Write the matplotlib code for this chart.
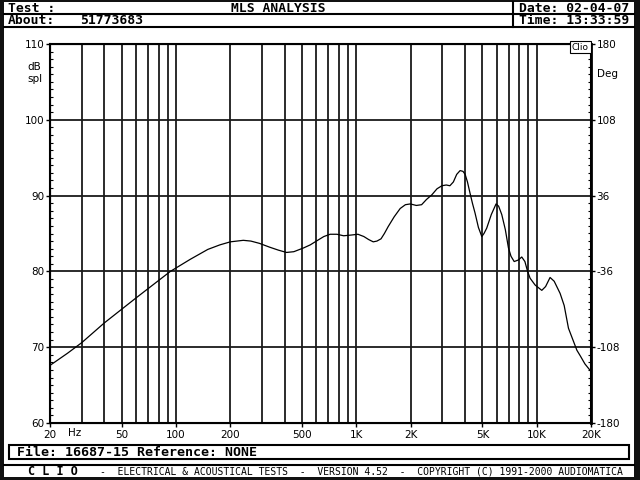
import matplotlib
matplotlib.use("Agg")
from matplotlib import pyplot as plt
from matplotlib.patches import Rectangle
from matplotlib.lines import Line2D
from matplotlib.ticker import FixedLocator, MultipleLocator, NullFormatter

plt.rcParams["axes.unicode_minus"] = False

# response curve
freq = [20, 25, 30, 40, 60, 93, 120, 150, 175, 200, 236, 260, 290, 330, 370,
        410, 450, 510, 555, 600, 660, 715, 780, 850, 940, 1020, 1100, 1170,
        1240, 1300, 1370, 1430, 1500, 1620, 1750, 1870, 1990, 2150, 2300,
        2450, 2620, 2800, 2980, 3150, 3300, 3450, 3600, 3760, 3900, 4010,
        4130, 4270, 4400, 4550, 4750, 4960, 5100, 5280, 5600, 5950, 6150,
        6400, 6700, 6970, 7200, 7500, 7900, 8260, 8600, 8900, 9190, 9800,
        10670, 11200, 11860, 12500, 13480, 14200, 15000, 16700, 17500, 18500,
        20000]
spl = [67.6, 69.2, 70.6, 73.2, 76.5, 80.0, 81.6, 82.9, 83.5, 83.9, 84.1, 84.0,
       83.7, 83.2, 82.8, 82.5, 82.6, 83.1, 83.5, 84.0, 84.6, 84.9, 84.9, 84.7,
       84.8, 84.9, 84.6, 84.2, 83.9, 84.0, 84.3, 85.0, 85.9, 87.2, 88.3, 88.8,
       88.9, 88.7, 88.8, 89.5, 90.1, 90.9, 91.3, 91.4, 91.3, 91.8, 92.8, 93.3,
       93.2, 92.8, 91.8, 90.3, 89.0, 87.7, 85.8, 84.6, 85.0, 85.7, 87.5, 88.9,
       88.6, 87.5, 85.5, 83.1, 82.0, 81.3, 81.5, 81.9, 81.3, 80.0, 79.1, 78.2,
       77.5, 78.0, 79.2, 78.7, 77.1, 75.5, 72.5, 69.6, 68.8, 67.8, 66.8]

x_ticks = [20, 50, 100, 200, 500, 1000, 2000, 5000, 10000, 20000]
x_labels = ["20", "50", "100", "200", "500", "1K", "2K", "5K", "10K", "20K"]
x_grid = [30, 40, 50, 60, 70, 80, 90, 100, 200, 300, 400, 500, 600, 700, 800,
          900, 1000, 2000, 3000, 4000, 5000, 6000, 7000, 8000, 9000, 10000]
db_ticks = [60, 70, 80, 90, 100, 110]
deg_ticks = [-180, -108, -36, 36, 108, 180]

W, H = 640, 480


def fx(x):
    return x / W


def fy(y):
    return 1 - y / H


def hline(fig, y, x0, x1, lw=1.5):
    fig.add_artist(Line2D([fx(x0), fx(x1)], [fy(y), fy(y)], color="black", lw=lw))


def vline(fig, x, y0, y1, lw=1.5):
    fig.add_artist(Line2D([fx(x), fx(x)], [fy(y0), fy(y1)], color="black", lw=lw))


fig = plt.figure(figsize=(6.4, 4.8), dpi=100)
fig.patch.set_facecolor("#111111")
fig.add_artist(Rectangle((fx(4), fy(477)), fx(630), 475 / H,
                         facecolor="white", edgecolor="none", zorder=-10))

# header
mono = "DejaVu Sans Mono"
hline(fig, 14, 4, 634)
hline(fig, 27, 4, 634)
vline(fig, 513, 2, 27)
fig.text(fx(8), fy(8), "Test :", family=mono, weight="bold", fontsize=9.4, va="center")
fig.text(fx(8), fy(20.5), "About:", family=mono, weight="bold", fontsize=9.4, va="center")
fig.text(fx(80), fy(20.5), "51773683", family=mono, weight="bold", fontsize=9.4, va="center")
fig.text(fx(278), fy(8), "MLS ANALYSIS", family=mono, weight="bold", fontsize=9.4,
         va="center", ha="center")
fig.text(fx(519), fy(8), "Date: 02-04-07", family=mono, weight="bold", fontsize=9.4, va="center")
fig.text(fx(519), fy(20.5), "Time: 13:33:59", family=mono, weight="bold", fontsize=9.4, va="center")

# footer
fig.add_artist(Rectangle((fx(9), fy(459)), fx(620), 14 / H, facecolor="none",
                         edgecolor="black", lw=1.5))
fig.text(fx(17), fy(452.5), "File: 16687-15 Reference: NONE", family=mono,
         weight="bold", fontsize=9.5, va="center")
hline(fig, 465, 4, 634)
fig.text(fx(28), fy(471.5), "C L I O", family=mono, weight="bold", fontsize=8.5, va="center")
fig.text(fx(100), fy(471.5),
         "-  ELECTRICAL & ACOUSTICAL TESTS  -  VERSION 4.52  -  COPYRIGHT (C) 1991-2000 AUDIOMATICA",
         family=mono, fontsize=7, va="center")

# plot
ax = fig.add_axes([fx(50), fy(423), 541 / W, 379 / H])
ax.set_facecolor("white")
ax.set_xscale("log")
ax.set_xlim(20, 20000)
ax.set_ylim(60, 110)
for f in x_grid:
    ax.axvline(f, color="#1a1a1a", lw=1.3, zorder=1)
for d in db_ticks[1:-1]:
    ax.axhline(d, color="#1a1a1a", lw=1.3, zorder=1)
ax.plot(freq, spl, color="black", lw=0.9, zorder=3)

ax.xaxis.set_major_locator(FixedLocator(x_ticks))
ax.xaxis.set_minor_locator(FixedLocator([]))
ax.set_xticklabels(x_labels)
ax.xaxis.set_minor_formatter(NullFormatter())
ax.set_yticks(db_ticks)
ax.yaxis.set_minor_locator(MultipleLocator(1))
ax.tick_params(axis="x", which="major", direction="out", length=3, width=1,
               labelsize=7.5, pad=2)
ax.tick_params(axis="y", which="major", direction="out", length=3, width=1,
               labelsize=7.5, pad=1)
ax.tick_params(axis="y", which="minor", direction="in", length=2, width=0.8)
for s in ax.spines.values():
    s.set_linewidth(1.5)
ax.text(27.5, -5.5 / 379, "Hz", transform=ax.get_xaxis_transform(), fontsize=7.5,
        ha="center", va="top")

ax2 = ax.twinx()
ax2.set_ylim(-180, 180)
ax2.set_yticks(deg_ticks)
ax2.yaxis.set_minor_locator(MultipleLocator(7.2))
ax2.tick_params(axis="y", which="major", direction="out", length=3, width=1,
                labelsize=7.5, pad=1)
ax2.tick_params(axis="y", which="minor", direction="in", length=2, width=0.8)
ax2.spines["right"].set_linewidth(2)

fig.text(fx(27), fy(67), "dB", fontsize=7.5, va="center")
fig.text(fx(27), fy(79), "spl", fontsize=7.5, va="center")
fig.text(fx(597), fy(74), "Deg", fontsize=7.5, va="center")
fig.text(fx(589), fy(47), "Clio", fontsize=6.5, va="center", ha="right",
         bbox=dict(facecolor="white", edgecolor="black", lw=0.8, pad=1.2))

fig.savefig("out.png", dpi=100, facecolor=fig.get_facecolor())
